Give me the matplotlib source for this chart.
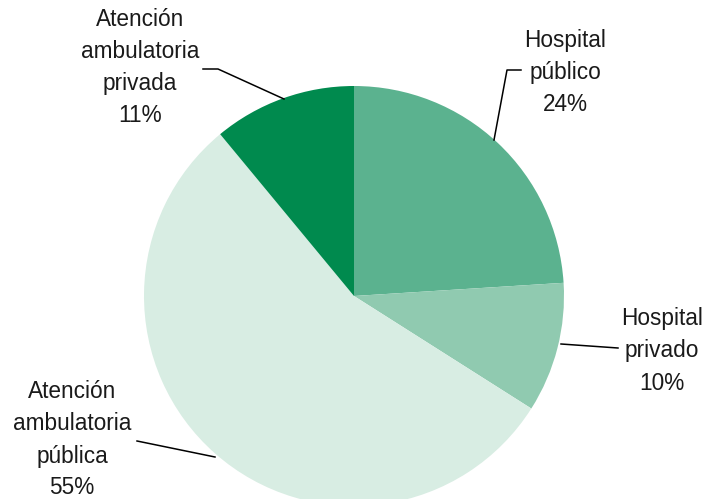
import matplotlib.pyplot as plt

# Data
labels = ['Hospital\npúblico', 'Hospital\nprivado', 'Atención\nambulatoria\npública', 'Atención\nambulatoria\nprivada']
shares = [24, 10, 55, 11]
colors = ['#5BB28F', '#90CAB0', '#D8EDE3', '#008A4E']

plt.rcParams['font.family'] = ['Liberation Sans', 'DejaVu Sans']

W, H = 706, 499
fig = plt.figure(figsize=(W / 100, H / 100), dpi=100)
ax = fig.add_axes([0, 0, 1, 1])

ax.pie(shares, colors=colors, startangle=90, counterclock=False,
       center=(354, H - 296), radius=210, frame=True,
       wedgeprops=dict(linewidth=0))
ax.set_xlim(0, W)
ax.set_ylim(0, H)
ax.set_aspect('equal')
ax.axis('off')

# label positions (pixel coords from top) and leader lines
text_pos = [(565, 72), (662, 351), (72, 440), (140, 67)]
leaders = [
    [(494, 140), (507, 70), (521, 70)],
    [(561, 344), (618, 348)],
    [(215, 457), (137, 441)],
    [(284, 99), (218, 69), (203, 69)],
]

for lab, pct, (tx, ty), pts in zip(labels, shares, text_pos, leaders):
    ax.text(tx, H - ty, f'{lab}\n{pct}%', ha='center', va='center',
            fontsize=16.3, linespacing=1.5, color='#1a1a1a')
    xs = [p[0] for p in pts]
    ys = [H - p[1] for p in pts]
    ax.plot(xs, ys, color='black', lw=1.1)

fig.savefig('out.png', dpi=100)
